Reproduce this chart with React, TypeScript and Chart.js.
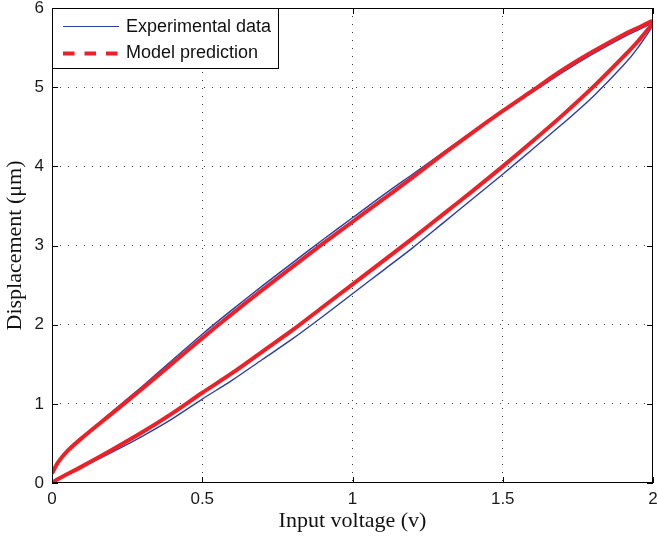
import React, { useEffect, useRef } from 'react';
import { Chart, registerables } from 'chart.js';
Chart.register(...registerables);

// Input voltage sample grid (v)
const voltage = [0, 0.02, 0.05, 0.1, 0.2, 0.3, 0.4, 0.5, 0.6, 0.7, 0.8, 0.9, 1.0, 1.1, 1.2, 1.3, 1.4, 1.5, 1.6, 1.7, 1.8, 1.9, 1.95, 2.0];
// Experimental data (μm): ascending and descending branches
const expAscending = [0.0, 0.05, 0.11, 0.20, 0.39, 0.59, 0.81, 1.06, 1.30, 1.56, 1.82, 2.10, 2.39, 2.68, 2.97, 3.28, 3.59, 3.90, 4.22, 4.54, 4.88, 5.27, 5.50, 5.80];
const expDescending = [0.12, 0.26, 0.40, 0.58, 0.90, 1.22, 1.55, 1.88, 2.19, 2.49, 2.78, 3.07, 3.35, 3.63, 3.90, 4.17, 4.44, 4.69, 4.94, 5.19, 5.42, 5.63, 5.72, 5.80];
// Model prediction (μm)
const modelAscending = [0.0, 0.05, 0.11, 0.21, 0.42, 0.64, 0.88, 1.14, 1.39, 1.66, 1.93, 2.22, 2.51, 2.80, 3.09, 3.39, 3.69, 4.00, 4.32, 4.65, 5.00, 5.38, 5.58, 5.83];
const modelDescending = [0.12, 0.26, 0.40, 0.57, 0.88, 1.19, 1.51, 1.83, 2.14, 2.44, 2.73, 3.02, 3.30, 3.58, 3.86, 4.15, 4.43, 4.70, 4.96, 5.22, 5.45, 5.66, 5.75, 5.83];

const xTicks = [0, 0.5, 1, 1.5, 2];
const yTicks = [0, 1, 2, 3, 4, 5, 6];
const seriesLabels = ['Experimental data', 'Model prediction'];
const xTitle = 'Input voltage (v)';
const yTitle = 'Displacement (\u03bcm)';

const BLUE = '#2a3ea6';
const RED = '#ee2027';

function loop(asc: number[], desc: number[]) {
  const up = asc.map((y, i) => ({ x: voltage[i], y }));
  const down = desc.map((y, i) => ({ x: voltage[i], y })).reverse().slice(1);
  return up.concat(down);
}

const frameLegendPlugin = {
  id: 'frameLegend',
  afterDraw(chart: any) {
    const { ctx, chartArea } = chart;
    const { left, right, top, bottom } = chartArea;
    const xs = chart.scales.x;
    const ys = chart.scales.y;
    ctx.save();
    ctx.strokeStyle = '#000';
    ctx.lineWidth = 1;
    ctx.setLineDash([]);
    // inward tick marks
    const tl = 6;
    ctx.beginPath();
    xTicks.forEach((v) => {
      const px = Math.round(xs.getPixelForValue(v)) + 0.5;
      ctx.moveTo(px, bottom);
      ctx.lineTo(px, bottom - tl);
      ctx.moveTo(px, top);
      ctx.lineTo(px, top + tl);
    });
    yTicks.forEach((v) => {
      const py = Math.round(ys.getPixelForValue(v)) + 0.5;
      ctx.moveTo(left, py);
      ctx.lineTo(left + tl, py);
      ctx.moveTo(right, py);
      ctx.lineTo(right - tl, py);
    });
    ctx.stroke();
    // box
    ctx.strokeRect(Math.round(left) + 0.5, Math.round(top) + 0.5, Math.round(right - left) - 1, Math.round(bottom - top) - 1);

    // legend
    const lx = Math.round(left) + 0.5;
    const ly = Math.round(top) + 0.5;
    const lw = 226;
    const lh = 60;
    ctx.fillStyle = '#fff';
    ctx.fillRect(lx, ly, lw, lh);
    ctx.strokeRect(lx, ly, lw, lh);
    const ds = chart.data.datasets;
    const rows = [top + 18, top + 44.5];
    ctx.font = '18px "Liberation Sans", Arial, sans-serif';
    ctx.textBaseline = 'middle';
    ctx.textAlign = 'left';
    seriesLabels.forEach((label, i) => {
      const d = ds.find((q: any) => q.label === label);
      const y = Math.round(rows[i]) + 0.5;
      ctx.beginPath();
      ctx.strokeStyle = d.borderColor;
      ctx.lineWidth = i === 0 ? 1 : 4;
      ctx.lineCap = 'butt';
      ctx.setLineDash(i === 0 ? [] : [11.5, 10]);
      ctx.moveTo(left + 11, y);
      ctx.lineTo(left + 67, y);
      ctx.stroke();
      ctx.setLineDash([]);
      ctx.fillStyle = '#111';
      ctx.fillText(label, left + 74, rows[i] + 1);
    });
    ctx.restore();
  },
};

export default function App() {
  const ref = useRef<HTMLCanvasElement | null>(null);
  useEffect(() => {
    if (!ref.current) return;
    const gridColor = (c: any) => {
      const n = c.scale.ticks.length;
      return c.index === 0 || c.index === n - 1 ? 'rgba(0,0,0,0)' : '#3a3a3a';
    };
    const chart = new Chart(ref.current, {
      type: 'scatter',
      data: {
        datasets: [
          {
            label: seriesLabels[0],
            data: loop(expAscending, expDescending),
            showLine: true,
            borderColor: BLUE,
            backgroundColor: BLUE,
            borderWidth: 1.4,
            pointRadius: 0,
            tension: 0.3,
            order: 2,
          },
          {
            label: seriesLabels[1],
            data: loop(modelAscending, modelDescending),
            showLine: true,
            borderColor: RED,
            backgroundColor: RED,
            borderWidth: 4,
            pointRadius: 0,
            tension: 0.3,
            order: 1,
          },
        ],
      },
      options: {
        animation: false,
        responsive: true,
        maintainAspectRatio: false,
        layout: { padding: { top: 8, right: 4, left: 0, bottom: 0 } },
        plugins: { legend: { display: false }, tooltip: { enabled: false } },
        scales: {
          x: {
            type: 'linear',
            min: 0,
            max: 2,
            afterBuildTicks: (s: any) => {
              s.ticks = xTicks.map((v) => ({ value: v }));
            },
            afterFit: (s: any) => {
              s.height = 56;
              s.paddingLeft = 0;
              s.paddingRight = 0;
            },
            grid: { color: gridColor, lineWidth: 1, drawTicks: false },
            border: { display: false, dash: [1, 7] },
            ticks: {
              padding: 6,
              color: '#1a1a1a',
              font: { family: '"Liberation Sans", Arial, sans-serif', size: 17 },
              maxRotation: 0,
              callback: (v: any) => String(v),
            },
            title: {
              display: true,
              text: xTitle,
              color: '#111',
              font: { family: '"Liberation Serif", "Times New Roman", serif', size: 22 },
              padding: { top: 0, bottom: 5 },
            },
          },
          y: {
            type: 'linear',
            min: 0,
            max: 6,
            afterBuildTicks: (s: any) => {
              s.ticks = yTicks.map((v) => ({ value: v }));
            },
            afterFit: (s: any) => {
              s.width = 52;
              s.paddingTop = 0;
              s.paddingBottom = 0;
            },
            grid: { color: gridColor, lineWidth: 1, drawTicks: false },
            border: { display: false, dash: [1, 7] },
            ticks: {
              padding: 8,
              color: '#1a1a1a',
              font: { family: '"Liberation Sans", Arial, sans-serif', size: 17 },
              callback: (v: any) => String(v),
            },
            title: {
              display: true,
              text: yTitle,
              color: '#111',
              font: { family: '"Liberation Serif", "Times New Roman", serif', size: 22 },
              padding: { top: 2, bottom: 0 },
            },
          },
        },
      },
      plugins: [frameLegendPlugin],
    } as any);
    return () => chart.destroy();
  }, []);
  return (
    <div style={{ position: 'absolute', left: 0, top: 0, width: 657, height: 539, background: '#fff' }}>
      <canvas ref={ref} />
    </div>
  );
}
